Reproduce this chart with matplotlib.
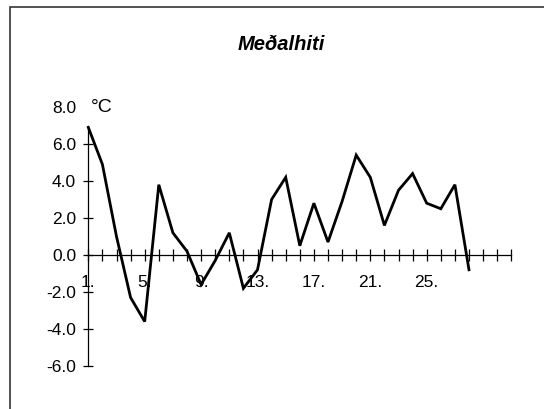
import matplotlib
matplotlib.use("Agg")
import matplotlib.pyplot as plt
from matplotlib.patches import Rectangle

plt.rcParams['font.family'] = ['Liberation Sans', 'DejaVu Sans']

days = list(range(1, 29))
temps = [6.9, 4.9, 1.0, -2.3, -3.6, 3.8, 1.2, 0.2, -1.6, -0.3,
         1.2, -1.8, -0.8, 3.0, 4.2, 0.5, 2.8, 0.7, 2.9, 5.4,
         4.2, 1.6, 3.5, 4.4, 2.8, 2.5, 3.8, -0.8]
x_ticks = list(range(1, 32))
x_labelled = [1, 5, 9, 13, 17, 21, 25]
y_ticks = [-6, -4, -2, 0, 2, 4, 6, 8]
title = "Meðalhiti"
unit = "°C"

W, H = 544, 409
fig = plt.figure(figsize=(W / 100, H / 100), dpi=100)
x0, x1 = 88.3, 511.3
ytop, ybot = 107.0, 366.0
ax = fig.add_axes([x0 / W, (H - ybot) / H, (x1 - x0) / W, (ybot - ytop) / H])

ax.plot(days, temps, color='black', lw=2.0, solid_joinstyle='miter', clip_on=False)
ax.set_xlim(1, 31)
ax.set_ylim(-6, 8)

for s in ['top', 'right']:
    ax.spines[s].set_visible(False)
ax.spines['bottom'].set_position(('data', 0))
ax.spines['left'].set_bounds(-6, 6.9)
for s in ['bottom', 'left']:
    ax.spines[s].set_linewidth(0.9)

ax.set_xticks(x_ticks)
ax.set_xticklabels([f"{d}." if d in x_labelled else "" for d in x_ticks])
ax.set_yticks(y_ticks)
ax.set_yticklabels([f"{v:.1f}" for v in y_ticks])
ax.tick_params(axis='x', direction='inout', length=8, width=0.9, pad=10.5, labelsize=12.5)
ax.tick_params(axis='y', direction='inout', length=7.5, width=0.9, pad=5, labelsize=12.5)
ax.yaxis.get_major_ticks()[-1].tick1line.set_visible(False)

fig.text(281 / W, 1 - 45 / H, title, ha='center', va='center',
         fontsize=14.5, fontweight='bold', fontstyle='italic')
fig.text(91 / W, 1 - 108 / H, unit, ha='left', va='center', fontsize=14)

fig.patches.append(Rectangle((9.5 / W, -0.1), 1.2, 1.1 - 7.5 / H,
                             transform=fig.transFigure, fill=False,
                             edgecolor='#333333', linewidth=1.2, clip_on=False))

fig.savefig('out.png', dpi=100)
